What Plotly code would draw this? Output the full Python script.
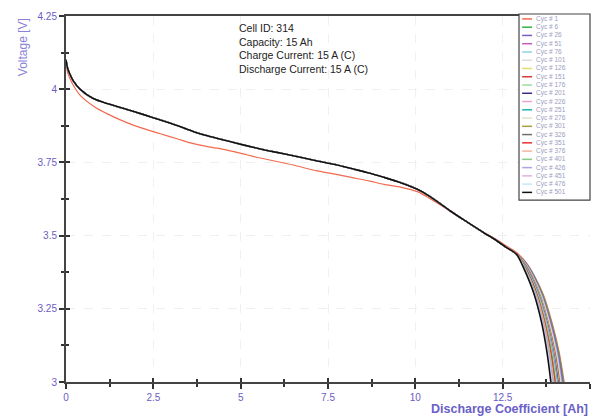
import plotly.graph_objects as go

# ---------------- data ----------------
CYCLE_LABELS = ["Cyc # 1", "Cyc # 6", "Cyc # 26", "Cyc # 51", "Cyc # 76", "Cyc # 101",
                "Cyc # 126", "Cyc # 151", "Cyc # 176", "Cyc # 201", "Cyc # 226", "Cyc # 251",
                "Cyc # 276", "Cyc # 301", "Cyc # 326", "Cyc # 351", "Cyc # 376", "Cyc # 401",
                "Cyc # 426", "Cyc # 451", "Cyc # 476", "Cyc # 501"]

CYCLE_COLORS = ["#f26a4f", "#2fb04a", "#7b5cc6", "#c45cc0", "#8fd3e2", "#dcdcdc",
                "#e4dc72", "#d63a3a", "#9edb9e", "#3b2a8c", "#e8a2d6", "#20b4b4",
                "#e2e2c4", "#a89e3c", "#6e6e6e", "#e83030", "#f4b49c", "#86cc86",
                "#ada6e0", "#e4aee4", "#c6eaf4", "#101010"]

# discharge capacity [Ah] along the common part of the curves
BODY_X = [0, 0.05, 0.1, 0.2, 0.4, 0.78, 1.2, 1.74, 2.2, 2.7, 3.2, 3.65, 4.1, 4.61,
          5.1, 5.56, 6.0, 6.5, 7.19, 7.7, 8.2, 8.7, 9.1, 9.6, 10.06, 10.4, 10.82,
          11.0, 11.5, 11.97, 12.3, 12.6, 12.9]

# voltage of cycle 1 (lower early curve)
FIRST_V = [4.095, 4.055, 4.04, 4.015, 3.98, 3.943, 3.915, 3.886, 3.866, 3.848, 3.830,
           3.814, 3.803, 3.792, 3.778, 3.765, 3.754, 3.741, 3.721, 3.71, 3.698, 3.686,
           3.675, 3.665, 3.65, 3.628, 3.597, 3.582, 3.545, 3.51, 3.488, 3.465, 3.442]

# voltage of the later cycles (common bundle)
MAIN_V = [4.10, 4.07, 4.055, 4.03, 4.0, 3.968, 3.950, 3.931, 3.914, 3.895, 3.875,
          3.855, 3.839, 3.824, 3.809, 3.796, 3.785, 3.773, 3.755, 3.743, 3.728, 3.713,
          3.699, 3.68, 3.658, 3.635, 3.60, 3.584, 3.545, 3.509, 3.485, 3.46, 3.436]

# knee region: voltage levels and capacity reached by each cycle at those levels
KNEE_V = [3.40, 3.30, 3.20, 3.10, 3.00]
KNEE_X = [
    [13.22, 13.66, 13.92, 14.12, 14.26],
    [13.21, 13.64, 13.90, 14.10, 14.24],
    [13.20, 13.62, 13.88, 14.08, 14.22],
    [13.19, 13.61, 13.87, 14.06, 14.20],
    [13.18, 13.60, 13.85, 14.05, 14.18],
    [13.17, 13.58, 13.84, 14.03, 14.16],
    [13.16, 13.57, 13.82, 14.01, 14.14],
    [13.16, 13.56, 13.81, 14.00, 14.13],
    [13.15, 13.55, 13.80, 13.98, 14.11],
    [13.14, 13.53, 13.78, 13.96, 14.09],
    [13.13, 13.52, 13.77, 13.95, 14.07],
    [13.13, 13.51, 13.75, 13.93, 14.06],
    [13.12, 13.50, 13.74, 13.91, 14.04],
    [13.11, 13.49, 13.73, 13.90, 14.02],
    [13.11, 13.48, 13.71, 13.88, 14.00],
    [13.10, 13.47, 13.70, 13.87, 13.99],
    [13.09, 13.46, 13.69, 13.85, 13.97],
    [13.09, 13.45, 13.67, 13.84, 13.95],
    [13.08, 13.44, 13.66, 13.82, 13.94],
    [13.07, 13.42, 13.65, 13.81, 13.92],
    [13.07, 13.41, 13.63, 13.79, 13.90],
    [13.06, 13.40, 13.62, 13.77, 13.88],
]

X_TICKS = [0, 2.5, 5, 7.5, 10, 12.5, 15]
X_TICK_LABELS = ["0", "2.5", "5", "7.5", "10", "12.5", "15"]
Y_TICKS = [3, 3.25, 3.5, 3.75, 4, 4.25]
Y_TICK_LABELS = ["3", "3.25", "3.5", "3.75", "4", "4.25"]

INFO_LINES = ["Cell ID: 314", "Capacity: 15 Ah", "Charge Current: 15 A (C)",
              "Discharge Current: 15 A (C)"]

# ---------------- figure ----------------
FONT = "Liberation Sans, Arial, sans-serif"
TICK_COLOR = "#6a5cc4"

fig = go.Figure()
for i, lab in enumerate(CYCLE_LABELS):
    yv = FIRST_V if i == 0 else MAIN_V
    fig.add_trace(go.Scatter(
        x=BODY_X + KNEE_X[i], y=yv + KNEE_V, mode="lines", name=lab,
        line=dict(color=CYCLE_COLORS[i], width=1.6 if i == len(CYCLE_LABELS) - 1 else 1.2,
                  shape="spline", smoothing=0.8),
        showlegend=False, xaxis="x", yaxis="y"))

# dummy trace for overlay axes (inward tick halves)
fig.add_trace(go.Scatter(x=[0], y=[3], mode="markers", marker=dict(opacity=0),
                         showlegend=False, hoverinfo="skip", xaxis="x2", yaxis="y2"))

fig.update_layout(
    width=592, height=419,
    margin=dict(l=66, r=2, t=16, b=37),
    paper_bgcolor="white", plot_bgcolor="white",
    font=dict(family=FONT),
    xaxis=dict(range=[0, 15], tickvals=X_TICKS, ticktext=X_TICK_LABELS, automargin=False,
               ticks="outside", ticklen=5, tickwidth=1.5, tickcolor="#333",
               tickfont=dict(size=10, color=TICK_COLOR, family=FONT),
               minor=dict(dtick=1.25, ticks="outside", ticklen=3, tickcolor="#333", showgrid=False),
               showline=True, linecolor="#444", linewidth=1.5, mirror=True,
               showgrid=True, gridcolor="#f0f0f0", griddash="dash", zeroline=False),
    yaxis=dict(range=[3, 4.25], tickvals=Y_TICKS, ticktext=Y_TICK_LABELS, automargin=False,
               ticks="outside", ticklen=5, tickwidth=1.5, tickcolor="#333",
               tickfont=dict(size=10, color=TICK_COLOR, family=FONT),
               minor=dict(dtick=0.125, ticks="outside", ticklen=3, tickcolor="#333", showgrid=False),
               showline=True, linecolor="#444", linewidth=2,
               showgrid=True, gridcolor="#f0f0f0", griddash="dash", zeroline=False),
    xaxis2=dict(overlaying="x", matches="x", range=[0, 15], tickvals=X_TICKS, automargin=False,
                ticks="inside", ticklen=4, tickwidth=1.5, tickcolor="#333",
                showticklabels=False, showgrid=False, zeroline=False,
                minor=dict(dtick=1.25, ticks="inside", ticklen=3, tickcolor="#333")),
    yaxis2=dict(overlaying="y", matches="y", range=[3, 4.25], tickvals=Y_TICKS, automargin=False,
                ticks="inside", ticklen=4, tickwidth=1.5, tickcolor="#333",
                showticklabels=False, showgrid=False, zeroline=False,
                minor=dict(dtick=0.125, ticks="inside", ticklen=3, tickcolor="#333")),
)

annotations = []
# axis titles
annotations.append(dict(text="<b>Discharge Coefficient [Ah]</b>", xref="paper", yref="paper",
                        x=1.0, y=-0.05, xanchor="right", yanchor="top", showarrow=False,
                        font=dict(size=12.5, color="#6a60c8", family=FONT)))
annotations.append(dict(text="Voltage [V]", xref="paper", yref="paper",
                        x=-0.082, y=0.915, xanchor="center", yanchor="middle", textangle=-90,
                        showarrow=False, font=dict(size=12, color="#8a82d8", family=FONT)))
# info block
annotations.append(dict(text="<br>".join(INFO_LINES), xref="paper", yref="paper",
                        x=0.327, y=0.99, xanchor="left", yanchor="top", align="left",
                        showarrow=False, font=dict(size=10.5, color="#222", family=FONT)))

# manual legend
shapes = []
leg_x0, leg_x1 = 0.8645, 1.0
leg_top, leg_bot = 1.0055, 0.497
shapes.append(dict(type="rect", xref="paper", yref="paper", x0=leg_x0, x1=leg_x1,
                   y0=leg_bot, y1=leg_top, line=dict(color="#444", width=1.2),
                   fillcolor="white", layer="above"))
n = len(CYCLE_LABELS)
step = (leg_top - leg_bot - 0.012) / n
for i, lab in enumerate(CYCLE_LABELS):
    yy = leg_top - 0.0135 - i * step
    shapes.append(dict(type="line", xref="paper", yref="paper", x0=leg_x0 + 0.006,
                       x1=leg_x0 + 0.025, y0=yy, y1=yy,
                       line=dict(color=CYCLE_COLORS[i], width=1.5), layer="above"))
    annotations.append(dict(text=lab, xref="paper", yref="paper", x=leg_x0 + 0.029, y=yy,
                            xanchor="left", yanchor="middle", showarrow=False,
                            font=dict(size=6.5, color="#9a9cc0", family=FONT)))

fig.update_layout(annotations=annotations, shapes=shapes)
fig.write_html("out.html", config={"displayModeBar": False},
               post_script="document.body.style.margin='0';document.body.style.overflow='hidden';")
